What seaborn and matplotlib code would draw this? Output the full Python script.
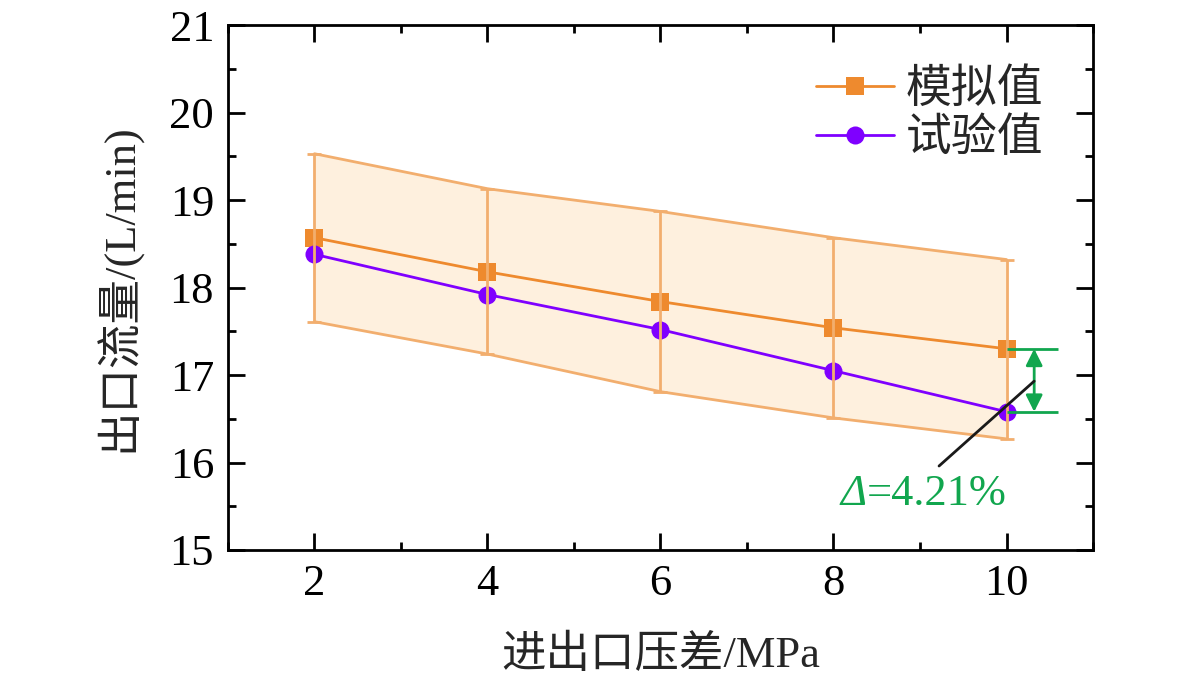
import numpy as np
import matplotlib
matplotlib.use("Agg")
import matplotlib.pyplot as plt
from matplotlib.ticker import MultipleLocator
import pandas as pd
import seaborn as sns

# data
pressure = [2, 4, 6, 8, 10]
sim_flow = [18.57, 18.18, 17.84, 17.54, 17.30]
exp_flow = [18.38, 17.92, 17.52, 17.05, 16.58]
band_upper = [19.53, 19.13, 18.87, 18.57, 18.32]
band_lower = [17.61, 17.24, 16.81, 16.51, 16.27]
delta_label = "=4.21%"

sns.set_theme(style="ticks")
plt.rcParams["font.family"] = ["Liberation Serif", "Noto Sans CJK SC"]

orange = "#EE8A2E"
light_orange = "#F2AE6E"
fill_orange = "#FEF0DE"
purple = "#7F00FF"
green = "#11A64E"

df = pd.DataFrame({
    "p": pressure * 2,
    "flow": sim_flow + exp_flow,
    "kind": ["模拟值"] * 5 + ["试验值"] * 5,
})

fig = plt.figure(figsize=(11.81, 6.79), dpi=100)
ax = fig.add_axes([0.193, 0.19, 0.7325, 0.773])

# shaded band with edges
ax.fill_between(pressure, band_lower, band_upper, color=fill_orange, zorder=1, lw=0)
ax.plot(pressure, band_upper, color=light_orange, lw=2, zorder=2)
ax.plot(pressure, band_lower, color=light_orange, lw=2, zorder=2)

sns.lineplot(data=df, x="p", y="flow", hue="kind", style="kind",
             palette={"模拟值": orange, "试验值": purple},
             markers={"模拟值": "s", "试验值": "o"}, dashes=False,
             markersize=13, markeredgewidth=0, linewidth=2, ax=ax, zorder=3)

# error bars over the markers
sim = np.array(sim_flow)
ax.errorbar(pressure, sim_flow,
            yerr=[sim - np.array(band_lower), np.array(band_upper) - sim],
            fmt="none", ecolor=light_orange, elinewidth=2, capsize=5, capthick=2, zorder=4)

ax.set_xlim(1, 11)
ax.set_ylim(15, 21)
ax.xaxis.set_major_locator(MultipleLocator(2))
ax.xaxis.set_minor_locator(MultipleLocator(1))
ax.yaxis.set_major_locator(MultipleLocator(1))
ax.yaxis.set_minor_locator(MultipleLocator(0.5))
ax.tick_params(which="both", direction="in", top=True, right=True, width=2, colors="black")
ax.tick_params(which="major", length=12, labelsize=32, pad=10)
ax.tick_params(which="minor", length=6)
ax.tick_params(axis="x", which="both", labeltop=False)
ax.tick_params(axis="y", which="both", labelright=False)
for s in ax.spines.values():
    s.set_linewidth(2)
    s.set_color("black")

ax.set_xlabel("进出口压差/MPa", fontsize=32, labelpad=22)
ax.set_ylabel("出口流量/(L/min)", fontsize=32, labelpad=20)

leg = ax.legend(loc="upper right", frameon=False, fontsize=33, handlelength=1.7,
                handletextpad=0.25, bbox_to_anchor=(0.99, 0.995), labelspacing=0.15)

# difference annotation
ax.hlines([sim_flow[-1], exp_flow[-1]], 10, 10.6, color=green, lw=2, zorder=5)
ax.annotate("", xy=(10.32, exp_flow[-1]), xytext=(10.32, sim_flow[-1]),
            arrowprops=dict(arrowstyle="<|-|>", color=green, lw=2, mutation_scale=25,
                            shrinkA=0, shrinkB=0), zorder=5)
ax.plot([9.22, 10.32], [15.96, 16.93], color="#1a1a1a", lw=2, zorder=5)
ax.text(8.38, 15.64, "Δ", color=green, fontsize=32, fontstyle="italic",
        ha="right", va="center", zorder=5)
ax.text(8.38, 15.64, delta_label, color=green, fontsize=32,
        ha="left", va="center", zorder=5)

fig.savefig("out.png", dpi=100)
